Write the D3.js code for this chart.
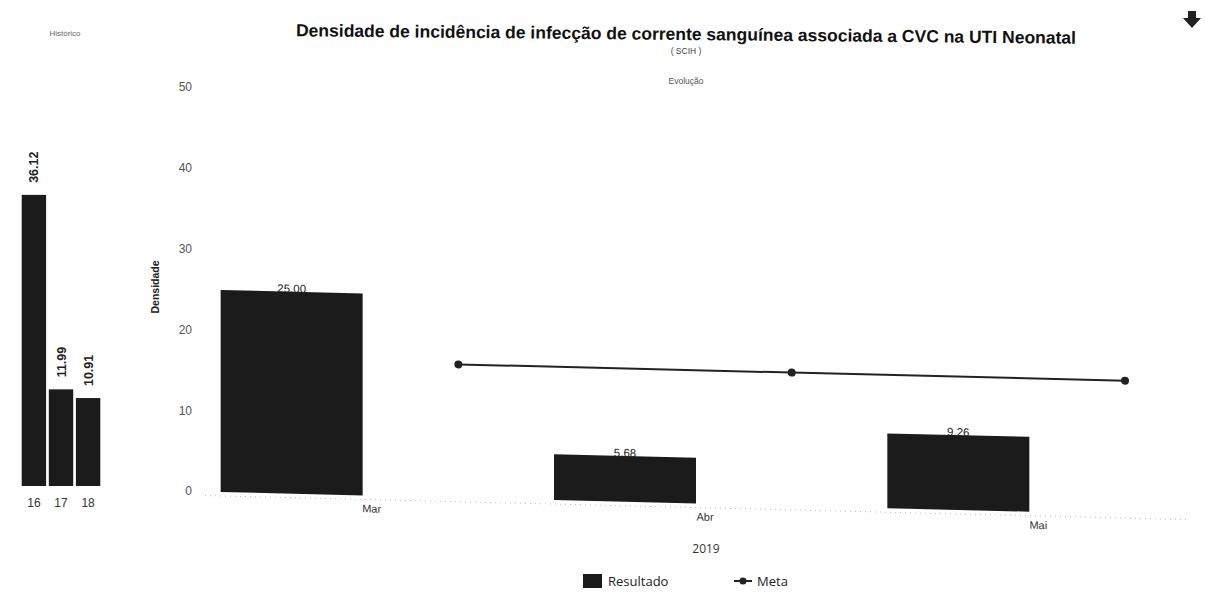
<!DOCTYPE html>
<html><head><meta charset="utf-8">
<script src="https://cdn.jsdelivr.net/npm/d3@7/dist/d3.min.js"></script>
<style>body{margin:0;background:#fff}svg{display:block}</style>
</head><body>
<svg id="c" width="1205" height="593"></svg>
<script>
const months = ["Mar","Abr","Mai"];
const resultado = [25.00, 5.68, 9.26];
const meta = [16.5, 16.5, 16.5];
const yearLabel = "2019";
const histYears = ["16","17","18"];
const histValues = [36.12, 11.99, 10.91];
const yTicks = [0,10,20,30,40,50];

const svg = d3.select("#c");
const ink = "#1b1b1b";

// Title
svg.append("text").attr("x",686).attr("y",40).attr("text-anchor","middle")
  .attr("font-family","Liberation Sans, Arial, sans-serif").attr("font-weight","bold")
  .attr("font-size",17.5).attr("fill","#111").attr("transform","rotate(0.55,686,36)")
  .text("Densidade de incidência de infecção de corrente sanguínea associada a CVC na UTI Neonatal");
svg.append("text").attr("x",686).attr("y",54).attr("text-anchor","middle")
  .attr("font-family","Liberation Sans, Arial, sans-serif").attr("font-size",8.5).attr("fill","#444").text("( SCIH )");
svg.append("text").attr("x",686).attr("y",84).attr("text-anchor","middle")
  .attr("font-family","Liberation Sans, Arial, sans-serif").attr("font-size",8.5).attr("fill","#555").text("Evolução");

// Download icon
svg.append("path").attr("transform","translate(1192,20)")
  .attr("d","M-4,-9 L4,-9 L4,-2 L9,-2 L0,8 L-9,-2 L-4,-2 Z").attr("fill","#222");

// Historic panel
const hx = d3.scaleBand().domain(histYears).range([19,103]).paddingInner(0.1).paddingOuter(0.1);
const hy = d3.scaleLinear().domain([0,50]).range([486,83]);
const hg = svg.append("g");
hg.append("text").attr("x",65).attr("y",36).attr("text-anchor","middle")
  .attr("font-family","Liberation Sans, Arial, sans-serif").attr("font-size",8).attr("fill","#666").text("Histórico");
hg.selectAll("rect").data(histValues).join("rect")
  .attr("x",(d,i)=>hx(histYears[i])).attr("width",hx.bandwidth())
  .attr("y",d=>hy(d)).attr("height",d=>hy(0)-hy(d)).attr("fill",ink);
hg.selectAll("text.hv").data(histValues).join("text").attr("class","hv")
  .attr("transform",(d,i)=>`translate(${hx(histYears[i])+hx.bandwidth()/2+4.5},${hy(d)-12}) rotate(-90)`)
  .attr("font-family","Liberation Sans, Arial, sans-serif").attr("font-weight","bold").attr("font-size",12.5)
  .attr("fill","#222").text(d=>d.toFixed(2));
hg.selectAll("text.hc").data(histYears).join("text").attr("class","hc")
  .attr("x",d=>hx(d)+hx.bandwidth()/2).attr("y",507).attr("text-anchor","middle")
  .attr("font-family","Liberation Sans, Arial, sans-serif").attr("font-size",12).attr("fill","#333").text(d=>d);

// Main plot (slightly skewed like the scan)
const skew = 1.4;
const mg = svg.append("g").attr("transform",`translate(183,0) skewY(${skew}) translate(-183,0)`);
const x = d3.scaleBand().domain(months).range([125,1125]).paddingInner(0.574).paddingOuter(0.287);
const y = d3.scaleLinear().domain([0,50]).range([491,87]);

// y axis labels
const yAxis = d3.axisLeft(y).tickValues(yTicks).tickSize(0).tickPadding(0);
const ya = svg.append("g").attr("transform","translate(192,0)").call(yAxis);
ya.select(".domain").remove();
ya.selectAll("text").attr("font-family","Liberation Sans, Arial, sans-serif").attr("font-size",12).attr("fill","#555");
svg.append("text").attr("transform","translate(159,287) rotate(-90)").attr("text-anchor","middle")
  .attr("font-family","Liberation Sans, Arial, sans-serif").attr("font-weight","bold").attr("font-size",10.5)
  .attr("fill","#222").text("Densidade");

// faint dotted baseline
mg.append("line").attr("x1",205).attr("x2",1190).attr("y1",y(0)+4).attr("y2",y(0)+4)
  .attr("stroke","#bbb").attr("stroke-dasharray","1,4");

// bars
mg.selectAll("rect.bar").data(resultado).join("rect").attr("class","bar")
  .attr("x",(d,i)=>x(months[i])).attr("width",x.bandwidth())
  .attr("y",d=>y(d)).attr("height",d=>y(0)-y(d)).attr("fill",ink);
mg.selectAll("text.bv").data(resultado).join("text").attr("class","bv")
  .attr("x",(d,i)=>x(months[i])+x.bandwidth()/2).attr("y",d=>y(d)+1).attr("text-anchor","middle")
  .attr("font-family","Liberation Sans, Arial, sans-serif").attr("font-size",11.5).attr("fill","#222")
  .text(d=>d.toFixed(2));

// x labels
mg.selectAll("text.xl").data(months).join("text").attr("class","xl")
  .attr("x",d=>x(d)+x.bandwidth()/2+80).attr("y",y(0)+17).attr("text-anchor","middle")
  .attr("font-family","Liberation Sans, Arial, sans-serif").attr("font-size",11).attr("fill","#333").text(d=>d);
svg.append("text").attr("x",706).attr("y",553).attr("text-anchor","middle")
  .attr("font-family","Open Sans, sans-serif").attr("font-size",12).attr("fill","#333").text(yearLabel);

// meta line
const mx = d => x(d) + x.bandwidth()/2 + x.step()/2;
const line = d3.line().x((d,i)=>mx(months[i])).y(d=>y(d));
mg.append("path").datum(meta).attr("d",line).attr("fill","none").attr("stroke","#222").attr("stroke-width",2);
mg.selectAll("circle.m").data(meta).join("circle").attr("class","m")
  .attr("cx",(d,i)=>mx(months[i])).attr("cy",d=>y(d)).attr("r",4).attr("fill","#222");

// legend
const lg = svg.append("g").attr("font-family","Open Sans, sans-serif").attr("font-size",13).attr("fill","#222");
lg.append("rect").attr("x",583).attr("y",574).attr("width",19).attr("height",14).attr("fill",ink);
lg.append("text").attr("x",608).attr("y",586).text("Resultado");
lg.append("line").attr("x1",734).attr("x2",752).attr("y1",581).attr("y2",581).attr("stroke","#222").attr("stroke-width",2);
lg.append("circle").attr("cx",743).attr("cy",581).attr("r",3.5).attr("fill","#222");
lg.append("text").attr("x",757).attr("y",586).text("Meta");
</script>
</body></html>
